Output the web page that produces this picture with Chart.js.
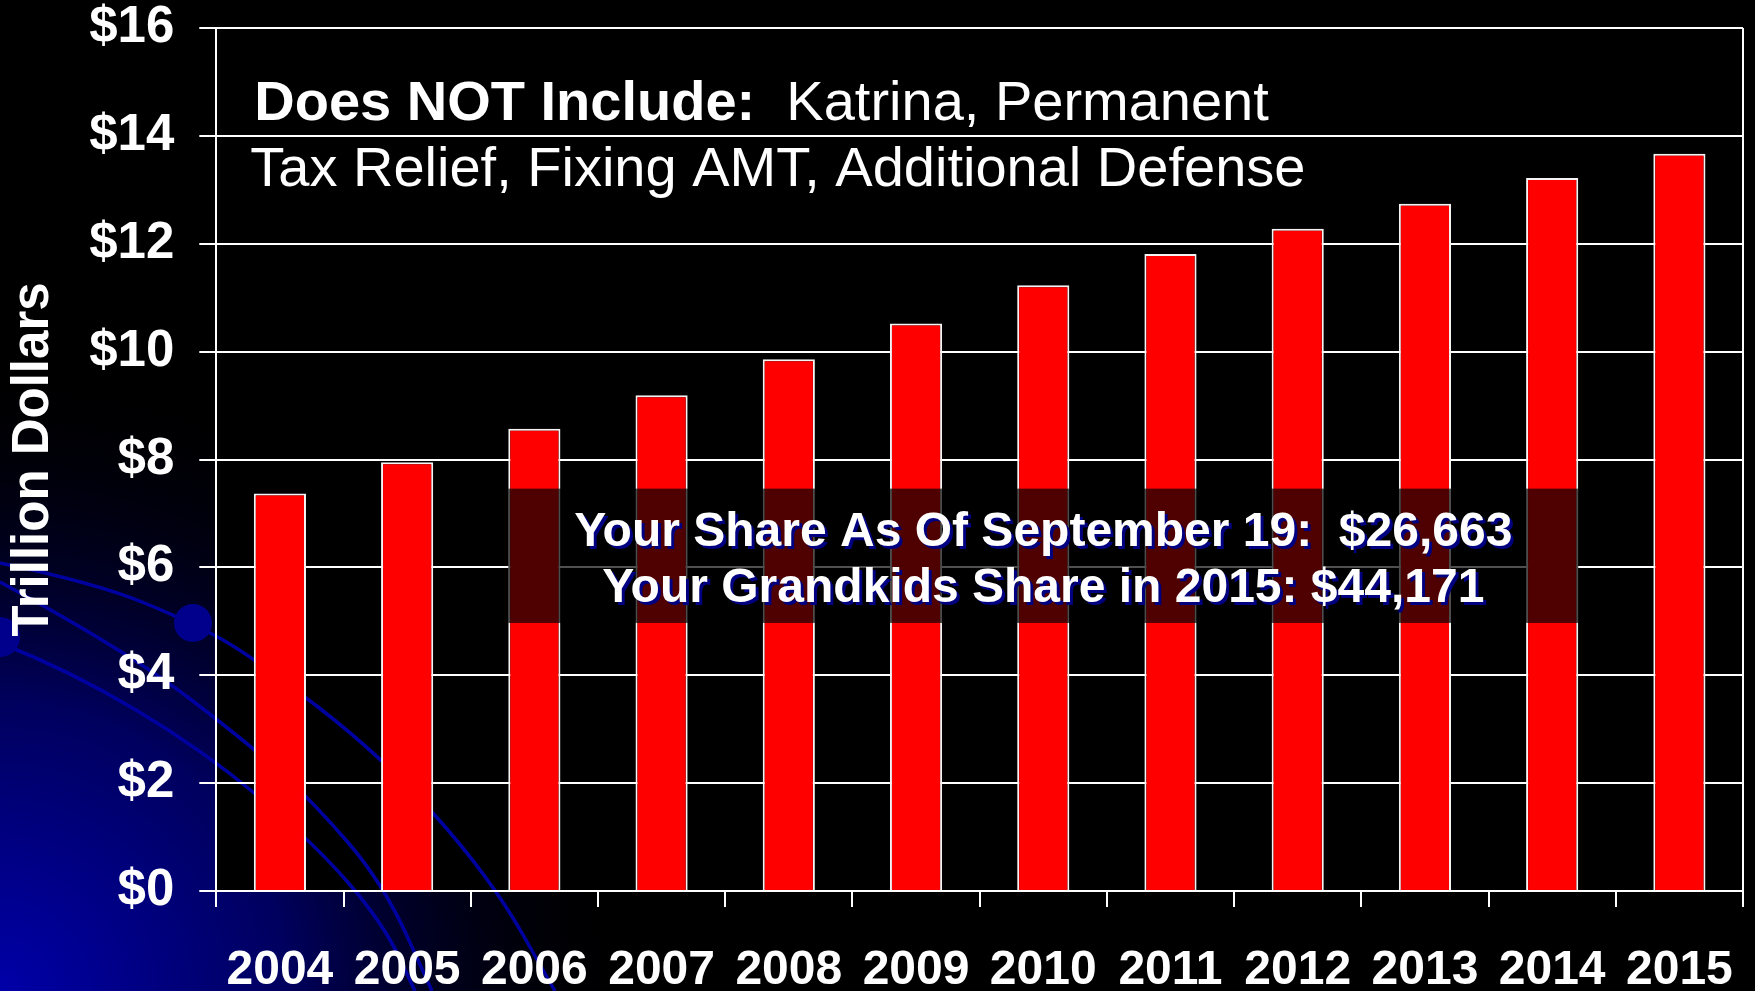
<!DOCTYPE html>
<html>
<head>
<meta charset="utf-8">
<script src="https://cdn.jsdelivr.net/npm/chart.js@4.4.1/dist/chart.umd.min.js"></script>
<style>
html, body { margin: 0; padding: 0; background: #000; overflow: hidden; }
canvas { display: block; }
</style>
</head>
<body>
<canvas id="debtChart" width="1755" height="991"></canvas>
<script>
var years = ['2004', '2005', '2006', '2007', '2008', '2009', '2010', '2011', '2012', '2013', '2014', '2015'],
	 debtValues = [7.37, 7.95, 8.57, 9.19, 9.86, 10.52, 11.23, 11.81, 12.28, 12.74, 13.22, 13.67],
	 yTicks = [0, 2, 4, 6, 8, 10, 12, 14, 16],
	 noteBold = 'Does NOT Include:',
	 noteLines = ['  Katrina, Permanent', 'Tax Relief, Fixing AMT, Additional Defense'],
	 shareLines = ['Your Share As Of September 19:  $26,663', 'Your Grandkids Share in 2015: $44,171'],
	 shareRange = [4.97, 7.46],
	 shareBars = [2, 10],
	 fontFamily = "'Liberation Sans', Arial, sans-serif";

// blue swooshes in the lower left corner (slide decoration)
var swooshes = [
	[[0, 563], [96, 583], [193, 623], [253, 657], [383, 757], [490, 877], [555, 991]],
	[[0, 582], [126, 650], [253, 747], [314, 803], [383, 883], [432, 991]],
	[[0, 643], [69, 670], [203, 750], [314, 843], [383, 923], [415, 991]]
];

function strokeThrough(ctx, pts) {
	ctx.beginPath();
	ctx.moveTo(pts[0][0], pts[0][1]);
	for (var i = 1; i < pts.length - 1; i++) {
		var mx = (pts[i][0] + pts[i + 1][0]) / 2,
			 my = (pts[i][1] + pts[i + 1][1]) / 2;
		ctx.quadraticCurveTo(pts[i][0], pts[i][1], mx, my);
	}
	ctx.lineTo(pts[pts.length - 1][0], pts[pts.length - 1][1]);
	ctx.stroke();
}

var backdrop = {
	id: 'backdrop',
	beforeDraw: function(chart) {
		var ctx = chart.ctx,
			 w = chart.width,
			 h = chart.height,
			 area = chart.chartArea;

		ctx.save();
		ctx.fillStyle = '#000';
		ctx.fillRect(0, 0, w, h);

		var glow = ctx.createRadialGradient(0, h, 0, 0, h, 640);
		glow.addColorStop(0, '#0000a8');
		glow.addColorStop(0.45, '#00005e');
		glow.addColorStop(1, 'rgba(0,0,0,0)');
		ctx.fillStyle = glow;
		ctx.fillRect(0, 0, w, h);

		ctx.fillStyle = '#000';
		ctx.fillRect(area.left, area.top, area.right - area.left, area.bottom - area.top);

		ctx.strokeStyle = '#0000a0';
		ctx.lineWidth = 3.5;
		for (var i = 0; i < swooshes.length; i++) {
			strokeThrough(ctx, swooshes[i]);
		}

		ctx.fillStyle = '#00008c';
		ctx.beginPath();
		ctx.arc(193, 623, 19, 0, Math.PI * 2);
		ctx.fill();
		ctx.beginPath();
		ctx.arc(0, 637, 20, 0, Math.PI * 2);
		ctx.fill();
		ctx.restore();
	},
	beforeDatasetsDraw: function(chart) {
		var ctx = chart.ctx,
			 area = chart.chartArea;
		ctx.save();
		ctx.strokeStyle = '#fff';
		ctx.lineWidth = 2;
		ctx.beginPath();
		ctx.moveTo(area.right, area.top);
		ctx.lineTo(area.right, area.bottom);
		ctx.stroke();
		ctx.restore();
	}
};

var notes = {
	id: 'notes',
	afterDatasetsDraw: function(chart) {
		var ctx = chart.ctx,
			 area = chart.chartArea,
			 yScale = chart.scales.y,
			 bars = chart.getDatasetMeta(0).data,
			 first = bars[shareBars[0]],
			 last = bars[shareBars[1]],
			 left = first.x - first.width / 2,
			 right = last.x + last.width / 2,
			 top = yScale.getPixelForValue(shareRange[1]),
			 bottom = yScale.getPixelForValue(shareRange[0]),
			 mid = (top + bottom) / 2,
			 cx = (left + right) / 2;

		ctx.save();

		// shaded box behind the share text
		ctx.fillStyle = 'rgba(0,0,0,0.69)';
		ctx.fillRect(left, top, right - left, bottom - top);

		ctx.font = 'bold 48px ' + fontFamily;
		ctx.textAlign = 'center';
		ctx.textBaseline = 'alphabetic';
		ctx.shadowColor = '#000080';
		ctx.shadowOffsetX = 3;
		ctx.shadowOffsetY = 3;
		ctx.shadowBlur = 0;
		ctx.fillStyle = '#fff';
		ctx.fillText(shareLines[0], cx, mid - 10);
		ctx.fillText(shareLines[1], cx, mid + 46);

		// note in the top left of the plot
		ctx.shadowColor = 'transparent';
		ctx.textAlign = 'left';
		var x0 = area.left + 38;
		ctx.font = 'bold 56px ' + fontFamily;
		ctx.fillText(noteBold, x0, area.top + 92);
		var boldWidth = ctx.measureText(noteBold).width;
		ctx.font = '56px ' + fontFamily;
		ctx.fillText(noteLines[0], x0 + boldWidth, area.top + 92);
		ctx.fillText(noteLines[1], x0 - 4, area.top + 158);
		ctx.restore();
	}
};

var debtChart = new Chart(document.getElementById('debtChart').getContext('2d'), {
	type: 'bar',
	data: {
		labels: years,
		datasets: [{
			data: debtValues,
			backgroundColor: '#ff0000',
			borderColor: '#f4f4f4',
			borderWidth: 2,
			barPercentage: 0.41,
			categoryPercentage: 1
		}]
	},
	options: {
		responsive: false,
		animation: false,
		devicePixelRatio: 1,
		layout: { padding: { top: 0, right: 12, bottom: -44, left: 0 } },
		plugins: {
			legend: { display: false },
			tooltip: { enabled: false }
		},
		scales: {
			x: {
				afterFit: function(axis) {
					axis.paddingLeft = 0;
					axis.paddingRight = 0;
				},
				grid: { color: '#fff', lineWidth: 2, drawOnChartArea: false, tickLength: 16, offset: true },
				border: { color: '#fff', width: 2 },
				ticks: {
					color: '#fff',
					font: { family: fontFamily, size: 48, weight: 'bold', lineHeight: 1 },
					padding: 40,
					maxRotation: 0,
					autoSkip: false
				}
			},
			y: {
				min: 0,
				max: 16,
				afterBuildTicks: function(axis) {
					axis.ticks = yTicks.map(function(v) { return { value: v }; });
				},
				afterFit: function(axis) {
					axis.paddingTop = 28;
				},
				grid: { color: '#fff', lineWidth: 2, tickLength: 17 },
				border: { color: '#fff', width: 2 },
				ticks: {
					color: '#fff',
					font: { family: fontFamily, size: 51, weight: 'bold' },
					padding: 25,
					callback: function(value) { return '$' + value; }
				},
				title: {
					display: true,
					text: 'Trillion Dollars',
					color: '#fff',
					font: { family: fontFamily, size: 51, weight: 'bold' },
					padding: { top: 3, bottom: 0 }
				}
			}
		}
	},
	plugins: [backdrop, notes]
});
</script>
</body>
</html>
